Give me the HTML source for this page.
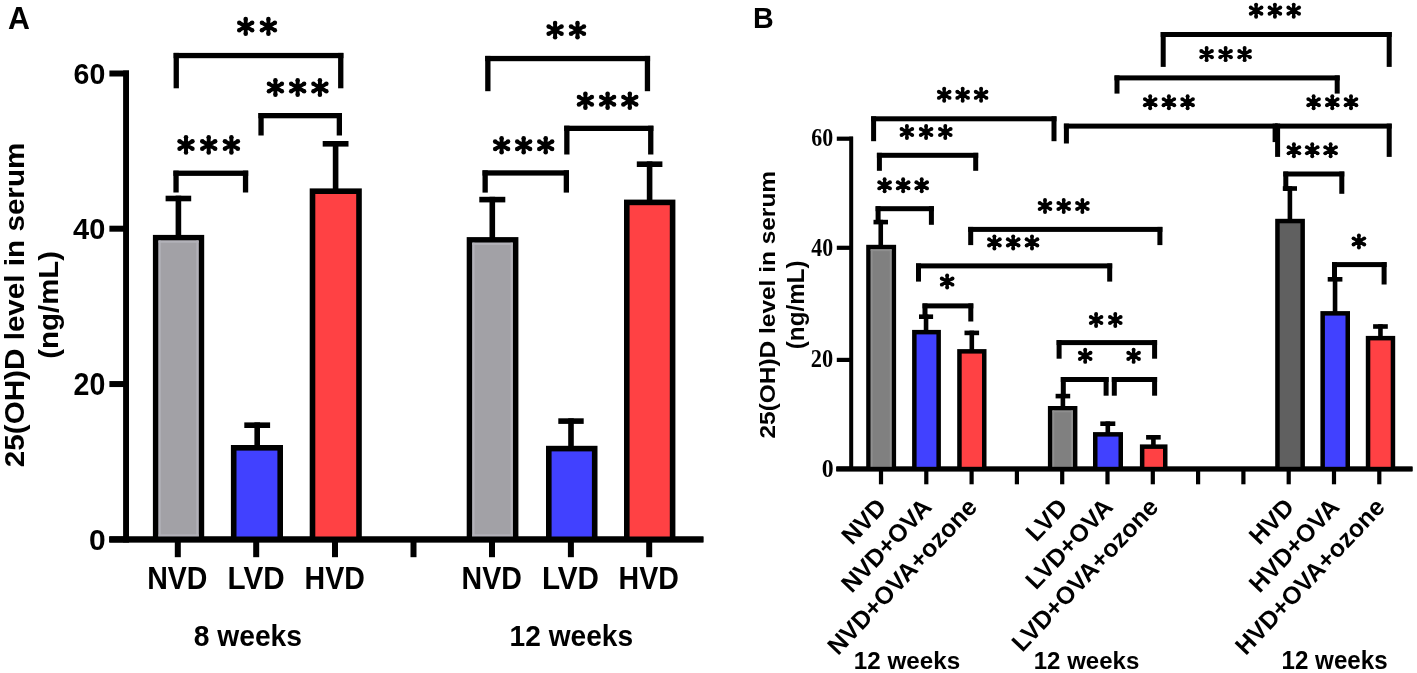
<!DOCTYPE html>
<html><head><meta charset="utf-8"><title>25(OH)D serum levels</title>
<style>html,body{margin:0;padding:0;background:#fff;overflow:hidden}svg{display:block;will-change:transform}</style></head>
<body><svg width="1417" height="673" viewBox="0 0 1417 673">
<rect width="1417" height="673" fill="#fff"/>
<text x="0" y="0" font-family="Liberation Sans, sans-serif" font-size="30.44" font-weight="bold" transform="translate(7.89,28.70) scale(0.9955,1)">A</text>
<rect x="123.10" y="70.50" width="5.90" height="471.90" fill="#000"/>
<rect x="109.40" y="70.50" width="19.60" height="6.00" fill="#000"/>
<rect x="109.40" y="225.70" width="19.60" height="6.00" fill="#000"/>
<rect x="109.40" y="381.05" width="19.60" height="6.00" fill="#000"/>
<rect x="109.40" y="536.40" width="19.60" height="6.00" fill="#000"/>
<rect x="109.40" y="536.50" width="594.00" height="5.90" fill="#000"/>
<rect x="174.80" y="540.00" width="6.00" height="17.20" fill="#000"/>
<rect x="253.20" y="540.00" width="6.00" height="17.20" fill="#000"/>
<rect x="332.00" y="540.00" width="6.00" height="17.20" fill="#000"/>
<rect x="410.50" y="540.00" width="6.00" height="17.20" fill="#000"/>
<rect x="489.00" y="540.00" width="6.00" height="17.20" fill="#000"/>
<rect x="567.90" y="540.00" width="6.00" height="17.20" fill="#000"/>
<rect x="646.20" y="540.00" width="6.00" height="17.20" fill="#000"/>
<rect x="152.90" y="234.90" width="51.30" height="307.10" fill="#000"/>
<rect x="158.50" y="240.50" width="40.10" height="301.50" fill="#a2a1a6"/>
<rect x="158.50" y="240.50" width="40.10" height="2.20" fill="#b3b2b9"/>
<rect x="158.50" y="240.50" width="2.20" height="301.50" fill="#b3b2b9"/>
<rect x="196.40" y="240.50" width="2.20" height="301.50" fill="#b3b2b9"/>
<rect x="158.50" y="534.40" width="40.10" height="2.20" fill="#b3b2b9"/>
<rect x="230.90" y="445.00" width="52.10" height="97.00" fill="#000"/>
<rect x="236.50" y="450.60" width="40.90" height="91.40" fill="#4141ff"/>
<rect x="309.70" y="188.40" width="52.10" height="353.60" fill="#000"/>
<rect x="315.30" y="194.00" width="40.90" height="348.00" fill="#ff4144"/>
<rect x="466.70" y="237.10" width="51.70" height="304.90" fill="#000"/>
<rect x="472.30" y="242.70" width="40.50" height="299.30" fill="#a2a1a6"/>
<rect x="472.30" y="242.70" width="40.50" height="2.20" fill="#b3b2b9"/>
<rect x="472.30" y="242.70" width="2.20" height="299.30" fill="#b3b2b9"/>
<rect x="510.60" y="242.70" width="2.20" height="299.30" fill="#b3b2b9"/>
<rect x="472.30" y="534.40" width="40.50" height="2.20" fill="#b3b2b9"/>
<rect x="546.00" y="445.80" width="51.50" height="96.20" fill="#000"/>
<rect x="551.60" y="451.40" width="40.30" height="90.60" fill="#4141ff"/>
<rect x="624.00" y="199.60" width="51.40" height="342.40" fill="#000"/>
<rect x="629.60" y="205.20" width="40.20" height="336.80" fill="#ff4144"/>
<rect x="109.40" y="536.50" width="594.00" height="5.90" fill="#000"/>
<rect x="175.60" y="195.70" width="5.60" height="40.20" fill="#000"/>
<rect x="165.60" y="195.70" width="25.60" height="5.60" fill="#000"/>
<rect x="254.40" y="422.40" width="5.60" height="23.60" fill="#000"/>
<rect x="244.30" y="422.40" width="25.80" height="5.60" fill="#000"/>
<rect x="332.80" y="141.00" width="5.60" height="48.40" fill="#000"/>
<rect x="322.70" y="141.00" width="25.80" height="5.60" fill="#000"/>
<rect x="489.50" y="196.80" width="5.60" height="41.30" fill="#000"/>
<rect x="479.30" y="196.80" width="26.00" height="5.60" fill="#000"/>
<rect x="568.20" y="418.30" width="5.60" height="28.50" fill="#000"/>
<rect x="558.30" y="418.30" width="25.40" height="5.60" fill="#000"/>
<rect x="646.80" y="161.40" width="5.60" height="39.20" fill="#000"/>
<rect x="636.80" y="161.40" width="25.60" height="5.60" fill="#000"/>
<rect x="173.60" y="52.90" width="169.80" height="5.30" fill="#000"/>
<rect x="173.60" y="52.90" width="5.30" height="35.40" fill="#000"/>
<rect x="338.10" y="52.90" width="5.30" height="35.40" fill="#000"/>
<rect x="258.40" y="113.00" width="83.60" height="5.30" fill="#000"/>
<rect x="258.40" y="113.00" width="5.30" height="22.50" fill="#000"/>
<rect x="336.70" y="113.00" width="5.30" height="22.50" fill="#000"/>
<rect x="173.40" y="170.60" width="74.80" height="5.30" fill="#000"/>
<rect x="173.40" y="170.60" width="5.30" height="21.90" fill="#000"/>
<rect x="242.90" y="170.60" width="5.30" height="21.90" fill="#000"/>
<rect x="485.20" y="55.90" width="164.90" height="5.30" fill="#000"/>
<rect x="485.20" y="55.90" width="5.30" height="35.30" fill="#000"/>
<rect x="644.80" y="55.90" width="5.30" height="35.30" fill="#000"/>
<rect x="564.20" y="125.70" width="89.20" height="5.30" fill="#000"/>
<rect x="564.20" y="125.70" width="5.30" height="28.80" fill="#000"/>
<rect x="648.10" y="125.70" width="5.30" height="28.80" fill="#000"/>
<rect x="482.50" y="170.30" width="86.50" height="5.30" fill="#000"/>
<rect x="482.50" y="170.30" width="5.30" height="22.30" fill="#000"/>
<rect x="563.70" y="170.30" width="5.30" height="22.30" fill="#000"/>
<path d="M245.70 26.45L245.70 19.05M245.70 26.45L252.15 22.73M245.70 26.45L252.15 30.17M245.70 26.45L245.70 33.85M245.70 26.45L239.25 30.17M245.70 26.45L239.25 22.73" stroke="#000" stroke-width="3.9" fill="none"/><g fill="#000"><circle cx="245.70" cy="19.05" r="2.25"/><circle cx="252.15" cy="22.73" r="2.25"/><circle cx="252.15" cy="30.17" r="2.25"/><circle cx="245.70" cy="33.85" r="2.25"/><circle cx="239.25" cy="30.17" r="2.25"/><circle cx="239.25" cy="22.73" r="2.25"/></g>
<path d="M268.40 26.45L268.40 19.05M268.40 26.45L274.85 22.73M268.40 26.45L274.85 30.17M268.40 26.45L268.40 33.85M268.40 26.45L261.95 30.17M268.40 26.45L261.95 22.73" stroke="#000" stroke-width="3.9" fill="none"/><g fill="#000"><circle cx="268.40" cy="19.05" r="2.25"/><circle cx="274.85" cy="22.73" r="2.25"/><circle cx="274.85" cy="30.17" r="2.25"/><circle cx="268.40" cy="33.85" r="2.25"/><circle cx="261.95" cy="30.17" r="2.25"/><circle cx="261.95" cy="22.73" r="2.25"/></g>
<path d="M275.40 87.55L275.40 80.35M275.40 87.55L281.85 83.83M275.40 87.55L281.85 91.27M275.40 87.55L275.40 94.75M275.40 87.55L268.95 91.27M275.40 87.55L268.95 83.83" stroke="#000" stroke-width="3.9" fill="none"/><g fill="#000"><circle cx="275.40" cy="80.35" r="2.25"/><circle cx="281.85" cy="83.83" r="2.25"/><circle cx="281.85" cy="91.27" r="2.25"/><circle cx="275.40" cy="94.75" r="2.25"/><circle cx="268.95" cy="91.27" r="2.25"/><circle cx="268.95" cy="83.83" r="2.25"/></g>
<path d="M297.65 87.55L297.65 80.35M297.65 87.55L304.10 83.83M297.65 87.55L304.10 91.27M297.65 87.55L297.65 94.75M297.65 87.55L291.20 91.27M297.65 87.55L291.20 83.83" stroke="#000" stroke-width="3.9" fill="none"/><g fill="#000"><circle cx="297.65" cy="80.35" r="2.25"/><circle cx="304.10" cy="83.83" r="2.25"/><circle cx="304.10" cy="91.27" r="2.25"/><circle cx="297.65" cy="94.75" r="2.25"/><circle cx="291.20" cy="91.27" r="2.25"/><circle cx="291.20" cy="83.83" r="2.25"/></g>
<path d="M319.90 87.55L319.90 80.35M319.90 87.55L326.35 83.83M319.90 87.55L326.35 91.27M319.90 87.55L319.90 94.75M319.90 87.55L313.45 91.27M319.90 87.55L313.45 83.83" stroke="#000" stroke-width="3.9" fill="none"/><g fill="#000"><circle cx="319.90" cy="80.35" r="2.25"/><circle cx="326.35" cy="83.83" r="2.25"/><circle cx="326.35" cy="91.27" r="2.25"/><circle cx="319.90" cy="94.75" r="2.25"/><circle cx="313.45" cy="91.27" r="2.25"/><circle cx="313.45" cy="83.83" r="2.25"/></g>
<path d="M186.00 144.95L186.00 137.35M186.00 144.95L192.45 141.23M186.00 144.95L192.45 148.67M186.00 144.95L186.00 152.55M186.00 144.95L179.55 148.67M186.00 144.95L179.55 141.23" stroke="#000" stroke-width="3.9" fill="none"/><g fill="#000"><circle cx="186.00" cy="137.35" r="2.25"/><circle cx="192.45" cy="141.23" r="2.25"/><circle cx="192.45" cy="148.67" r="2.25"/><circle cx="186.00" cy="152.55" r="2.25"/><circle cx="179.55" cy="148.67" r="2.25"/><circle cx="179.55" cy="141.23" r="2.25"/></g>
<path d="M208.70 144.95L208.70 137.35M208.70 144.95L215.15 141.23M208.70 144.95L215.15 148.67M208.70 144.95L208.70 152.55M208.70 144.95L202.25 148.67M208.70 144.95L202.25 141.23" stroke="#000" stroke-width="3.9" fill="none"/><g fill="#000"><circle cx="208.70" cy="137.35" r="2.25"/><circle cx="215.15" cy="141.23" r="2.25"/><circle cx="215.15" cy="148.67" r="2.25"/><circle cx="208.70" cy="152.55" r="2.25"/><circle cx="202.25" cy="148.67" r="2.25"/><circle cx="202.25" cy="141.23" r="2.25"/></g>
<path d="M231.40 144.95L231.40 137.35M231.40 144.95L237.85 141.23M231.40 144.95L237.85 148.67M231.40 144.95L231.40 152.55M231.40 144.95L224.95 148.67M231.40 144.95L224.95 141.23" stroke="#000" stroke-width="3.9" fill="none"/><g fill="#000"><circle cx="231.40" cy="137.35" r="2.25"/><circle cx="237.85" cy="141.23" r="2.25"/><circle cx="237.85" cy="148.67" r="2.25"/><circle cx="231.40" cy="152.55" r="2.25"/><circle cx="224.95" cy="148.67" r="2.25"/><circle cx="224.95" cy="141.23" r="2.25"/></g>
<path d="M555.10 30.15L555.10 22.95M555.10 30.15L561.55 26.43M555.10 30.15L561.55 33.87M555.10 30.15L555.10 37.35M555.10 30.15L548.65 33.87M555.10 30.15L548.65 26.43" stroke="#000" stroke-width="3.9" fill="none"/><g fill="#000"><circle cx="555.10" cy="22.95" r="2.25"/><circle cx="561.55" cy="26.43" r="2.25"/><circle cx="561.55" cy="33.87" r="2.25"/><circle cx="555.10" cy="37.35" r="2.25"/><circle cx="548.65" cy="33.87" r="2.25"/><circle cx="548.65" cy="26.43" r="2.25"/></g>
<path d="M577.50 30.15L577.50 22.95M577.50 30.15L583.95 26.43M577.50 30.15L583.95 33.87M577.50 30.15L577.50 37.35M577.50 30.15L571.05 33.87M577.50 30.15L571.05 26.43" stroke="#000" stroke-width="3.9" fill="none"/><g fill="#000"><circle cx="577.50" cy="22.95" r="2.25"/><circle cx="583.95" cy="26.43" r="2.25"/><circle cx="583.95" cy="33.87" r="2.25"/><circle cx="577.50" cy="37.35" r="2.25"/><circle cx="571.05" cy="33.87" r="2.25"/><circle cx="571.05" cy="26.43" r="2.25"/></g>
<path d="M585.40 100.75L585.40 93.65M585.40 100.75L591.85 97.03M585.40 100.75L591.85 104.47M585.40 100.75L585.40 107.85M585.40 100.75L578.95 104.47M585.40 100.75L578.95 97.03" stroke="#000" stroke-width="3.9" fill="none"/><g fill="#000"><circle cx="585.40" cy="93.65" r="2.25"/><circle cx="591.85" cy="97.03" r="2.25"/><circle cx="591.85" cy="104.47" r="2.25"/><circle cx="585.40" cy="107.85" r="2.25"/><circle cx="578.95" cy="104.47" r="2.25"/><circle cx="578.95" cy="97.03" r="2.25"/></g>
<path d="M607.60 100.75L607.60 93.65M607.60 100.75L614.05 97.03M607.60 100.75L614.05 104.47M607.60 100.75L607.60 107.85M607.60 100.75L601.15 104.47M607.60 100.75L601.15 97.03" stroke="#000" stroke-width="3.9" fill="none"/><g fill="#000"><circle cx="607.60" cy="93.65" r="2.25"/><circle cx="614.05" cy="97.03" r="2.25"/><circle cx="614.05" cy="104.47" r="2.25"/><circle cx="607.60" cy="107.85" r="2.25"/><circle cx="601.15" cy="104.47" r="2.25"/><circle cx="601.15" cy="97.03" r="2.25"/></g>
<path d="M629.80 100.75L629.80 93.65M629.80 100.75L636.25 97.03M629.80 100.75L636.25 104.47M629.80 100.75L629.80 107.85M629.80 100.75L623.35 104.47M629.80 100.75L623.35 97.03" stroke="#000" stroke-width="3.9" fill="none"/><g fill="#000"><circle cx="629.80" cy="93.65" r="2.25"/><circle cx="636.25" cy="97.03" r="2.25"/><circle cx="636.25" cy="104.47" r="2.25"/><circle cx="629.80" cy="107.85" r="2.25"/><circle cx="623.35" cy="104.47" r="2.25"/><circle cx="623.35" cy="97.03" r="2.25"/></g>
<path d="M501.60 145.30L501.60 138.25M501.60 145.30L508.05 141.58M501.60 145.30L508.05 149.02M501.60 145.30L501.60 152.35M501.60 145.30L495.15 149.02M501.60 145.30L495.15 141.58" stroke="#000" stroke-width="3.9" fill="none"/><g fill="#000"><circle cx="501.60" cy="138.25" r="2.25"/><circle cx="508.05" cy="141.58" r="2.25"/><circle cx="508.05" cy="149.02" r="2.25"/><circle cx="501.60" cy="152.35" r="2.25"/><circle cx="495.15" cy="149.02" r="2.25"/><circle cx="495.15" cy="141.58" r="2.25"/></g>
<path d="M523.65 145.30L523.65 138.25M523.65 145.30L530.10 141.58M523.65 145.30L530.10 149.02M523.65 145.30L523.65 152.35M523.65 145.30L517.20 149.02M523.65 145.30L517.20 141.58" stroke="#000" stroke-width="3.9" fill="none"/><g fill="#000"><circle cx="523.65" cy="138.25" r="2.25"/><circle cx="530.10" cy="141.58" r="2.25"/><circle cx="530.10" cy="149.02" r="2.25"/><circle cx="523.65" cy="152.35" r="2.25"/><circle cx="517.20" cy="149.02" r="2.25"/><circle cx="517.20" cy="141.58" r="2.25"/></g>
<path d="M545.70 145.30L545.70 138.25M545.70 145.30L552.15 141.58M545.70 145.30L552.15 149.02M545.70 145.30L545.70 152.35M545.70 145.30L539.25 149.02M545.70 145.30L539.25 141.58" stroke="#000" stroke-width="3.9" fill="none"/><g fill="#000"><circle cx="545.70" cy="138.25" r="2.25"/><circle cx="552.15" cy="141.58" r="2.25"/><circle cx="552.15" cy="149.02" r="2.25"/><circle cx="545.70" cy="152.35" r="2.25"/><circle cx="539.25" cy="149.02" r="2.25"/><circle cx="539.25" cy="141.58" r="2.25"/></g>
<text x="0" y="0" font-family="Liberation Sans, sans-serif" font-size="30.00" font-weight="bold" transform="translate(73.56,83.70) scale(0.9515,1)">60</text>
<text x="0" y="0" font-family="Liberation Sans, sans-serif" font-size="30.14" font-weight="bold" transform="translate(73.12,239.10) scale(0.9606,1)">40</text>
<text x="0" y="0" font-family="Liberation Sans, sans-serif" font-size="30.42" font-weight="bold" transform="translate(73.54,394.50) scale(0.9387,1)">20</text>
<text x="0" y="0" font-family="Liberation Sans, sans-serif" font-size="30.42" font-weight="bold" transform="translate(88.90,550.00) scale(0.9861,1)">0</text>
<text x="0" y="0" font-family="Liberation Sans, sans-serif" font-size="30.87" font-weight="bold" transform="translate(147.20,589.30) scale(0.9249,1)">NVD</text>
<text x="0" y="0" font-family="Liberation Sans, sans-serif" font-size="30.87" font-weight="bold" transform="translate(227.52,589.30) scale(0.9611,1)">LVD</text>
<text x="0" y="0" font-family="Liberation Sans, sans-serif" font-size="30.87" font-weight="bold" transform="translate(304.60,589.30) scale(0.9249,1)">HVD</text>
<text x="0" y="0" font-family="Liberation Sans, sans-serif" font-size="30.87" font-weight="bold" transform="translate(461.60,589.30) scale(0.9249,1)">NVD</text>
<text x="0" y="0" font-family="Liberation Sans, sans-serif" font-size="30.87" font-weight="bold" transform="translate(541.92,589.30) scale(0.9611,1)">LVD</text>
<text x="0" y="0" font-family="Liberation Sans, sans-serif" font-size="30.87" font-weight="bold" transform="translate(618.60,589.30) scale(0.9249,1)">HVD</text>
<text x="0" y="0" font-family="Liberation Sans, sans-serif" font-size="29.19" font-weight="bold" transform="translate(193.65,646.11) scale(0.9676,1)">8 weeks</text>
<text x="0" y="0" font-family="Liberation Sans, sans-serif" font-size="29.46" font-weight="bold" transform="translate(509.61,646.21) scale(0.9550,1)">12 weeks</text>
<text x="0" y="0" font-family="Liberation Sans, sans-serif" font-size="27.87" font-weight="bold" transform="translate(23.65,467.19) rotate(-90) scale(1.0641,1)">25(OH)D level in serum</text>
<text x="0" y="0" font-family="Liberation Sans, sans-serif" font-size="27.55" font-weight="bold" transform="translate(57.51,358.67) rotate(-90) scale(1.0675,1)">(ng/mL)</text>
<text x="0" y="0" font-family="Liberation Sans, sans-serif" font-size="29.71" font-weight="bold" transform="translate(753.09,28.20) scale(0.9656,1)">B</text>
<rect x="849.20" y="136.60" width="4.00" height="334.40" fill="#000"/>
<rect x="836.80" y="136.60" width="16.20" height="4.20" fill="#000"/>
<rect x="836.80" y="245.70" width="16.20" height="4.20" fill="#000"/>
<rect x="836.80" y="357.80" width="16.20" height="4.20" fill="#000"/>
<rect x="836.80" y="466.60" width="16.20" height="4.20" fill="#000"/>
<rect x="836.30" y="466.40" width="576.20" height="4.60" fill="#000"/>
<rect x="878.90" y="469.00" width="4.20" height="15.30" fill="#000"/>
<rect x="924.20" y="469.00" width="4.20" height="15.30" fill="#000"/>
<rect x="969.50" y="469.00" width="4.20" height="15.30" fill="#000"/>
<rect x="1014.80" y="469.00" width="4.20" height="15.30" fill="#000"/>
<rect x="1060.10" y="469.00" width="4.20" height="15.30" fill="#000"/>
<rect x="1105.40" y="469.00" width="4.20" height="15.30" fill="#000"/>
<rect x="1150.70" y="469.00" width="4.20" height="15.30" fill="#000"/>
<rect x="1196.00" y="469.00" width="4.20" height="15.30" fill="#000"/>
<rect x="1241.30" y="469.00" width="4.20" height="15.30" fill="#000"/>
<rect x="1286.60" y="469.00" width="4.20" height="15.30" fill="#000"/>
<rect x="1331.90" y="469.00" width="4.20" height="15.30" fill="#000"/>
<rect x="1377.20" y="469.00" width="4.20" height="15.30" fill="#000"/>
<rect x="866.20" y="244.80" width="29.90" height="225.20" fill="#000"/>
<rect x="870.70" y="249.30" width="20.90" height="220.70" fill="#808080"/>
<rect x="870.70" y="249.30" width="20.90" height="1.80" fill="#8f8f8f"/>
<rect x="870.70" y="249.30" width="1.80" height="220.70" fill="#8f8f8f"/>
<rect x="889.80" y="249.30" width="1.80" height="220.70" fill="#8f8f8f"/>
<rect x="912.10" y="329.90" width="28.80" height="140.10" fill="#000"/>
<rect x="916.60" y="334.40" width="19.80" height="135.60" fill="#4141ff"/>
<rect x="957.20" y="349.10" width="29.30" height="120.90" fill="#000"/>
<rect x="961.70" y="353.60" width="20.30" height="116.40" fill="#ff4144"/>
<rect x="1047.90" y="406.00" width="29.50" height="64.00" fill="#000"/>
<rect x="1052.40" y="410.50" width="20.50" height="59.50" fill="#808080"/>
<rect x="1052.40" y="410.50" width="20.50" height="1.80" fill="#8f8f8f"/>
<rect x="1052.40" y="410.50" width="1.80" height="59.50" fill="#8f8f8f"/>
<rect x="1071.10" y="410.50" width="1.80" height="59.50" fill="#8f8f8f"/>
<rect x="1093.00" y="432.10" width="30.00" height="37.90" fill="#000"/>
<rect x="1097.50" y="436.60" width="21.00" height="33.40" fill="#4141ff"/>
<rect x="1139.90" y="444.40" width="27.60" height="25.60" fill="#000"/>
<rect x="1144.40" y="448.90" width="18.60" height="21.10" fill="#ff4144"/>
<rect x="1275.20" y="218.80" width="29.70" height="251.20" fill="#000"/>
<rect x="1279.70" y="223.30" width="20.70" height="246.70" fill="#606060"/>
<rect x="1320.40" y="311.10" width="29.60" height="158.90" fill="#000"/>
<rect x="1324.90" y="315.60" width="20.60" height="154.40" fill="#4141ff"/>
<rect x="1365.80" y="335.90" width="29.40" height="134.10" fill="#000"/>
<rect x="1370.30" y="340.40" width="20.40" height="129.60" fill="#ff4144"/>
<rect x="836.30" y="466.80" width="576.20" height="4.80" fill="#000"/>
<rect x="878.45" y="219.80" width="4.60" height="26.00" fill="#000"/>
<rect x="873.50" y="219.80" width="14.50" height="4.60" fill="#000"/>
<rect x="923.75" y="314.40" width="4.60" height="16.50" fill="#000"/>
<rect x="919.00" y="314.40" width="14.10" height="4.60" fill="#000"/>
<rect x="969.50" y="330.60" width="4.60" height="19.50" fill="#000"/>
<rect x="964.50" y="330.60" width="14.60" height="4.60" fill="#000"/>
<rect x="1060.60" y="393.80" width="4.60" height="13.20" fill="#000"/>
<rect x="1055.60" y="393.80" width="14.60" height="4.60" fill="#000"/>
<rect x="1105.50" y="421.40" width="4.60" height="11.70" fill="#000"/>
<rect x="1100.30" y="421.40" width="15.00" height="4.60" fill="#000"/>
<rect x="1151.10" y="435.00" width="4.60" height="10.40" fill="#000"/>
<rect x="1146.10" y="435.00" width="14.60" height="4.60" fill="#000"/>
<rect x="1287.60" y="186.20" width="4.60" height="33.60" fill="#000"/>
<rect x="1282.80" y="186.20" width="14.20" height="4.60" fill="#000"/>
<rect x="1332.75" y="277.00" width="4.60" height="35.10" fill="#000"/>
<rect x="1327.70" y="277.00" width="14.70" height="4.60" fill="#000"/>
<rect x="1378.15" y="324.20" width="4.60" height="12.70" fill="#000"/>
<rect x="1373.10" y="324.20" width="14.70" height="4.60" fill="#000"/>
<rect x="871.10" y="116.30" width="185.40" height="5.00" fill="#000"/>
<rect x="871.10" y="116.30" width="5.00" height="24.90" fill="#000"/>
<rect x="1051.50" y="116.30" width="5.00" height="24.90" fill="#000"/>
<rect x="876.90" y="152.80" width="101.30" height="5.00" fill="#000"/>
<rect x="876.90" y="152.80" width="5.00" height="18.00" fill="#000"/>
<rect x="973.20" y="152.80" width="5.00" height="18.00" fill="#000"/>
<rect x="875.60" y="206.20" width="58.30" height="5.00" fill="#000"/>
<rect x="875.60" y="206.20" width="5.00" height="15.80" fill="#000"/>
<rect x="928.90" y="206.20" width="5.00" height="18.60" fill="#000"/>
<rect x="1063.90" y="123.60" width="213.70" height="5.00" fill="#000"/>
<rect x="1063.90" y="123.60" width="5.00" height="19.90" fill="#000"/>
<rect x="1272.60" y="123.60" width="5.00" height="18.50" fill="#000"/>
<rect x="1275.10" y="123.60" width="116.60" height="5.00" fill="#000"/>
<rect x="1275.10" y="123.60" width="5.00" height="33.30" fill="#000"/>
<rect x="1386.70" y="123.60" width="5.00" height="33.30" fill="#000"/>
<rect x="1160.70" y="32.00" width="231.00" height="5.00" fill="#000"/>
<rect x="1160.70" y="32.00" width="5.00" height="34.90" fill="#000"/>
<rect x="1386.70" y="32.00" width="5.00" height="34.90" fill="#000"/>
<rect x="1114.50" y="75.40" width="225.20" height="5.00" fill="#000"/>
<rect x="1114.50" y="75.40" width="5.00" height="18.20" fill="#000"/>
<rect x="1334.70" y="75.40" width="5.00" height="18.20" fill="#000"/>
<rect x="1283.30" y="171.50" width="61.00" height="5.00" fill="#000"/>
<rect x="1283.30" y="171.50" width="5.00" height="19.50" fill="#000"/>
<rect x="1339.30" y="171.50" width="5.00" height="22.30" fill="#000"/>
<rect x="1332.00" y="262.10" width="54.60" height="5.00" fill="#000"/>
<rect x="1332.00" y="262.10" width="5.00" height="15.90" fill="#000"/>
<rect x="1381.60" y="262.10" width="5.00" height="22.40" fill="#000"/>
<rect x="968.20" y="226.90" width="194.20" height="5.00" fill="#000"/>
<rect x="968.20" y="226.90" width="5.00" height="18.20" fill="#000"/>
<rect x="1157.40" y="226.90" width="5.00" height="18.20" fill="#000"/>
<rect x="916.00" y="263.40" width="196.20" height="5.00" fill="#000"/>
<rect x="916.00" y="263.40" width="5.00" height="18.20" fill="#000"/>
<rect x="1107.20" y="263.40" width="5.00" height="18.20" fill="#000"/>
<rect x="922.50" y="303.40" width="50.80" height="5.00" fill="#000"/>
<rect x="922.50" y="303.40" width="5.00" height="12.60" fill="#000"/>
<rect x="968.30" y="303.40" width="5.00" height="18.10" fill="#000"/>
<rect x="1056.60" y="340.10" width="100.50" height="5.00" fill="#000"/>
<rect x="1056.60" y="340.10" width="5.00" height="18.60" fill="#000"/>
<rect x="1152.10" y="340.10" width="5.00" height="18.60" fill="#000"/>
<rect x="1060.80" y="377.00" width="47.80" height="5.00" fill="#000"/>
<rect x="1060.80" y="377.00" width="5.00" height="18.00" fill="#000"/>
<rect x="1103.60" y="377.00" width="5.00" height="18.70" fill="#000"/>
<rect x="1111.80" y="377.00" width="45.30" height="5.00" fill="#000"/>
<rect x="1111.80" y="377.00" width="5.00" height="18.70" fill="#000"/>
<rect x="1152.10" y="377.00" width="5.00" height="18.70" fill="#000"/>
<path d="M944.20 94.80L944.20 88.75M944.20 94.80L949.55 91.71M944.20 94.80L949.55 97.89M944.20 94.80L944.20 100.85M944.20 94.80L938.85 97.89M944.20 94.80L938.85 91.71" stroke="#000" stroke-width="3.3" fill="none"/><g fill="#000"><circle cx="944.20" cy="88.75" r="1.95"/><circle cx="949.55" cy="91.71" r="1.95"/><circle cx="949.55" cy="97.89" r="1.95"/><circle cx="944.20" cy="100.85" r="1.95"/><circle cx="938.85" cy="97.89" r="1.95"/><circle cx="938.85" cy="91.71" r="1.95"/></g>
<path d="M962.65 94.80L962.65 88.75M962.65 94.80L968.00 91.71M962.65 94.80L968.00 97.89M962.65 94.80L962.65 100.85M962.65 94.80L957.30 97.89M962.65 94.80L957.30 91.71" stroke="#000" stroke-width="3.3" fill="none"/><g fill="#000"><circle cx="962.65" cy="88.75" r="1.95"/><circle cx="968.00" cy="91.71" r="1.95"/><circle cx="968.00" cy="97.89" r="1.95"/><circle cx="962.65" cy="100.85" r="1.95"/><circle cx="957.30" cy="97.89" r="1.95"/><circle cx="957.30" cy="91.71" r="1.95"/></g>
<path d="M981.10 94.80L981.10 88.75M981.10 94.80L986.45 91.71M981.10 94.80L986.45 97.89M981.10 94.80L981.10 100.85M981.10 94.80L975.75 97.89M981.10 94.80L975.75 91.71" stroke="#000" stroke-width="3.3" fill="none"/><g fill="#000"><circle cx="981.10" cy="88.75" r="1.95"/><circle cx="986.45" cy="91.71" r="1.95"/><circle cx="986.45" cy="97.89" r="1.95"/><circle cx="981.10" cy="100.85" r="1.95"/><circle cx="975.75" cy="97.89" r="1.95"/><circle cx="975.75" cy="91.71" r="1.95"/></g>
<path d="M906.90 132.00L906.90 125.95M906.90 132.00L912.25 128.91M906.90 132.00L912.25 135.09M906.90 132.00L906.90 138.05M906.90 132.00L901.55 135.09M906.90 132.00L901.55 128.91" stroke="#000" stroke-width="3.3" fill="none"/><g fill="#000"><circle cx="906.90" cy="125.95" r="1.95"/><circle cx="912.25" cy="128.91" r="1.95"/><circle cx="912.25" cy="135.09" r="1.95"/><circle cx="906.90" cy="138.05" r="1.95"/><circle cx="901.55" cy="135.09" r="1.95"/><circle cx="901.55" cy="128.91" r="1.95"/></g>
<path d="M926.10 132.00L926.10 125.95M926.10 132.00L931.45 128.91M926.10 132.00L931.45 135.09M926.10 132.00L926.10 138.05M926.10 132.00L920.75 135.09M926.10 132.00L920.75 128.91" stroke="#000" stroke-width="3.3" fill="none"/><g fill="#000"><circle cx="926.10" cy="125.95" r="1.95"/><circle cx="931.45" cy="128.91" r="1.95"/><circle cx="931.45" cy="135.09" r="1.95"/><circle cx="926.10" cy="138.05" r="1.95"/><circle cx="920.75" cy="135.09" r="1.95"/><circle cx="920.75" cy="128.91" r="1.95"/></g>
<path d="M945.30 132.00L945.30 125.95M945.30 132.00L950.65 128.91M945.30 132.00L950.65 135.09M945.30 132.00L945.30 138.05M945.30 132.00L939.95 135.09M945.30 132.00L939.95 128.91" stroke="#000" stroke-width="3.3" fill="none"/><g fill="#000"><circle cx="945.30" cy="125.95" r="1.95"/><circle cx="950.65" cy="128.91" r="1.95"/><circle cx="950.65" cy="135.09" r="1.95"/><circle cx="945.30" cy="138.05" r="1.95"/><circle cx="939.95" cy="135.09" r="1.95"/><circle cx="939.95" cy="128.91" r="1.95"/></g>
<path d="M884.60 185.30L884.60 179.25M884.60 185.30L889.95 182.21M884.60 185.30L889.95 188.39M884.60 185.30L884.60 191.35M884.60 185.30L879.25 188.39M884.60 185.30L879.25 182.21" stroke="#000" stroke-width="3.3" fill="none"/><g fill="#000"><circle cx="884.60" cy="179.25" r="1.95"/><circle cx="889.95" cy="182.21" r="1.95"/><circle cx="889.95" cy="188.39" r="1.95"/><circle cx="884.60" cy="191.35" r="1.95"/><circle cx="879.25" cy="188.39" r="1.95"/><circle cx="879.25" cy="182.21" r="1.95"/></g>
<path d="M903.15 185.30L903.15 179.25M903.15 185.30L908.50 182.21M903.15 185.30L908.50 188.39M903.15 185.30L903.15 191.35M903.15 185.30L897.80 188.39M903.15 185.30L897.80 182.21" stroke="#000" stroke-width="3.3" fill="none"/><g fill="#000"><circle cx="903.15" cy="179.25" r="1.95"/><circle cx="908.50" cy="182.21" r="1.95"/><circle cx="908.50" cy="188.39" r="1.95"/><circle cx="903.15" cy="191.35" r="1.95"/><circle cx="897.80" cy="188.39" r="1.95"/><circle cx="897.80" cy="182.21" r="1.95"/></g>
<path d="M921.70 185.30L921.70 179.25M921.70 185.30L927.05 182.21M921.70 185.30L927.05 188.39M921.70 185.30L921.70 191.35M921.70 185.30L916.35 188.39M921.70 185.30L916.35 182.21" stroke="#000" stroke-width="3.3" fill="none"/><g fill="#000"><circle cx="921.70" cy="179.25" r="1.95"/><circle cx="927.05" cy="182.21" r="1.95"/><circle cx="927.05" cy="188.39" r="1.95"/><circle cx="921.70" cy="191.35" r="1.95"/><circle cx="916.35" cy="188.39" r="1.95"/><circle cx="916.35" cy="182.21" r="1.95"/></g>
<path d="M1256.10 10.65L1256.10 4.60M1256.10 10.65L1261.45 7.56M1256.10 10.65L1261.45 13.74M1256.10 10.65L1256.10 16.70M1256.10 10.65L1250.75 13.74M1256.10 10.65L1250.75 7.56" stroke="#000" stroke-width="3.3" fill="none"/><g fill="#000"><circle cx="1256.10" cy="4.60" r="1.95"/><circle cx="1261.45" cy="7.56" r="1.95"/><circle cx="1261.45" cy="13.74" r="1.95"/><circle cx="1256.10" cy="16.70" r="1.95"/><circle cx="1250.75" cy="13.74" r="1.95"/><circle cx="1250.75" cy="7.56" r="1.95"/></g>
<path d="M1274.90 10.65L1274.90 4.60M1274.90 10.65L1280.25 7.56M1274.90 10.65L1280.25 13.74M1274.90 10.65L1274.90 16.70M1274.90 10.65L1269.55 13.74M1274.90 10.65L1269.55 7.56" stroke="#000" stroke-width="3.3" fill="none"/><g fill="#000"><circle cx="1274.90" cy="4.60" r="1.95"/><circle cx="1280.25" cy="7.56" r="1.95"/><circle cx="1280.25" cy="13.74" r="1.95"/><circle cx="1274.90" cy="16.70" r="1.95"/><circle cx="1269.55" cy="13.74" r="1.95"/><circle cx="1269.55" cy="7.56" r="1.95"/></g>
<path d="M1293.70 10.65L1293.70 4.60M1293.70 10.65L1299.05 7.56M1293.70 10.65L1299.05 13.74M1293.70 10.65L1293.70 16.70M1293.70 10.65L1288.35 13.74M1293.70 10.65L1288.35 7.56" stroke="#000" stroke-width="3.3" fill="none"/><g fill="#000"><circle cx="1293.70" cy="4.60" r="1.95"/><circle cx="1299.05" cy="7.56" r="1.95"/><circle cx="1299.05" cy="13.74" r="1.95"/><circle cx="1293.70" cy="16.70" r="1.95"/><circle cx="1288.35" cy="13.74" r="1.95"/><circle cx="1288.35" cy="7.56" r="1.95"/></g>
<path d="M1206.60 54.10L1206.60 48.05M1206.60 54.10L1211.95 51.01M1206.60 54.10L1211.95 57.19M1206.60 54.10L1206.60 60.15M1206.60 54.10L1201.25 57.19M1206.60 54.10L1201.25 51.01" stroke="#000" stroke-width="3.3" fill="none"/><g fill="#000"><circle cx="1206.60" cy="48.05" r="1.95"/><circle cx="1211.95" cy="51.01" r="1.95"/><circle cx="1211.95" cy="57.19" r="1.95"/><circle cx="1206.60" cy="60.15" r="1.95"/><circle cx="1201.25" cy="57.19" r="1.95"/><circle cx="1201.25" cy="51.01" r="1.95"/></g>
<path d="M1225.60 54.10L1225.60 48.05M1225.60 54.10L1230.95 51.01M1225.60 54.10L1230.95 57.19M1225.60 54.10L1225.60 60.15M1225.60 54.10L1220.25 57.19M1225.60 54.10L1220.25 51.01" stroke="#000" stroke-width="3.3" fill="none"/><g fill="#000"><circle cx="1225.60" cy="48.05" r="1.95"/><circle cx="1230.95" cy="51.01" r="1.95"/><circle cx="1230.95" cy="57.19" r="1.95"/><circle cx="1225.60" cy="60.15" r="1.95"/><circle cx="1220.25" cy="57.19" r="1.95"/><circle cx="1220.25" cy="51.01" r="1.95"/></g>
<path d="M1244.60 54.10L1244.60 48.05M1244.60 54.10L1249.95 51.01M1244.60 54.10L1249.95 57.19M1244.60 54.10L1244.60 60.15M1244.60 54.10L1239.25 57.19M1244.60 54.10L1239.25 51.01" stroke="#000" stroke-width="3.3" fill="none"/><g fill="#000"><circle cx="1244.60" cy="48.05" r="1.95"/><circle cx="1249.95" cy="51.01" r="1.95"/><circle cx="1249.95" cy="57.19" r="1.95"/><circle cx="1244.60" cy="60.15" r="1.95"/><circle cx="1239.25" cy="57.19" r="1.95"/><circle cx="1239.25" cy="51.01" r="1.95"/></g>
<path d="M1150.20 102.20L1150.20 96.15M1150.20 102.20L1155.55 99.11M1150.20 102.20L1155.55 105.29M1150.20 102.20L1150.20 108.25M1150.20 102.20L1144.85 105.29M1150.20 102.20L1144.85 99.11" stroke="#000" stroke-width="3.3" fill="none"/><g fill="#000"><circle cx="1150.20" cy="96.15" r="1.95"/><circle cx="1155.55" cy="99.11" r="1.95"/><circle cx="1155.55" cy="105.29" r="1.95"/><circle cx="1150.20" cy="108.25" r="1.95"/><circle cx="1144.85" cy="105.29" r="1.95"/><circle cx="1144.85" cy="99.11" r="1.95"/></g>
<path d="M1168.90 102.20L1168.90 96.15M1168.90 102.20L1174.25 99.11M1168.90 102.20L1174.25 105.29M1168.90 102.20L1168.90 108.25M1168.90 102.20L1163.55 105.29M1168.90 102.20L1163.55 99.11" stroke="#000" stroke-width="3.3" fill="none"/><g fill="#000"><circle cx="1168.90" cy="96.15" r="1.95"/><circle cx="1174.25" cy="99.11" r="1.95"/><circle cx="1174.25" cy="105.29" r="1.95"/><circle cx="1168.90" cy="108.25" r="1.95"/><circle cx="1163.55" cy="105.29" r="1.95"/><circle cx="1163.55" cy="99.11" r="1.95"/></g>
<path d="M1187.60 102.20L1187.60 96.15M1187.60 102.20L1192.95 99.11M1187.60 102.20L1192.95 105.29M1187.60 102.20L1187.60 108.25M1187.60 102.20L1182.25 105.29M1187.60 102.20L1182.25 99.11" stroke="#000" stroke-width="3.3" fill="none"/><g fill="#000"><circle cx="1187.60" cy="96.15" r="1.95"/><circle cx="1192.95" cy="99.11" r="1.95"/><circle cx="1192.95" cy="105.29" r="1.95"/><circle cx="1187.60" cy="108.25" r="1.95"/><circle cx="1182.25" cy="105.29" r="1.95"/><circle cx="1182.25" cy="99.11" r="1.95"/></g>
<path d="M1313.60 102.20L1313.60 96.15M1313.60 102.20L1318.95 99.11M1313.60 102.20L1318.95 105.29M1313.60 102.20L1313.60 108.25M1313.60 102.20L1308.25 105.29M1313.60 102.20L1308.25 99.11" stroke="#000" stroke-width="3.3" fill="none"/><g fill="#000"><circle cx="1313.60" cy="96.15" r="1.95"/><circle cx="1318.95" cy="99.11" r="1.95"/><circle cx="1318.95" cy="105.29" r="1.95"/><circle cx="1313.60" cy="108.25" r="1.95"/><circle cx="1308.25" cy="105.29" r="1.95"/><circle cx="1308.25" cy="99.11" r="1.95"/></g>
<path d="M1332.30 102.20L1332.30 96.15M1332.30 102.20L1337.65 99.11M1332.30 102.20L1337.65 105.29M1332.30 102.20L1332.30 108.25M1332.30 102.20L1326.95 105.29M1332.30 102.20L1326.95 99.11" stroke="#000" stroke-width="3.3" fill="none"/><g fill="#000"><circle cx="1332.30" cy="96.15" r="1.95"/><circle cx="1337.65" cy="99.11" r="1.95"/><circle cx="1337.65" cy="105.29" r="1.95"/><circle cx="1332.30" cy="108.25" r="1.95"/><circle cx="1326.95" cy="105.29" r="1.95"/><circle cx="1326.95" cy="99.11" r="1.95"/></g>
<path d="M1351.00 102.20L1351.00 96.15M1351.00 102.20L1356.35 99.11M1351.00 102.20L1356.35 105.29M1351.00 102.20L1351.00 108.25M1351.00 102.20L1345.65 105.29M1351.00 102.20L1345.65 99.11" stroke="#000" stroke-width="3.3" fill="none"/><g fill="#000"><circle cx="1351.00" cy="96.15" r="1.95"/><circle cx="1356.35" cy="99.11" r="1.95"/><circle cx="1356.35" cy="105.29" r="1.95"/><circle cx="1351.00" cy="108.25" r="1.95"/><circle cx="1345.65" cy="105.29" r="1.95"/><circle cx="1345.65" cy="99.11" r="1.95"/></g>
<path d="M1293.90 150.25L1293.90 144.20M1293.90 150.25L1299.25 147.16M1293.90 150.25L1299.25 153.34M1293.90 150.25L1293.90 156.30M1293.90 150.25L1288.55 153.34M1293.90 150.25L1288.55 147.16" stroke="#000" stroke-width="3.3" fill="none"/><g fill="#000"><circle cx="1293.90" cy="144.20" r="1.95"/><circle cx="1299.25" cy="147.16" r="1.95"/><circle cx="1299.25" cy="153.34" r="1.95"/><circle cx="1293.90" cy="156.30" r="1.95"/><circle cx="1288.55" cy="153.34" r="1.95"/><circle cx="1288.55" cy="147.16" r="1.95"/></g>
<path d="M1312.25 150.25L1312.25 144.20M1312.25 150.25L1317.60 147.16M1312.25 150.25L1317.60 153.34M1312.25 150.25L1312.25 156.30M1312.25 150.25L1306.90 153.34M1312.25 150.25L1306.90 147.16" stroke="#000" stroke-width="3.3" fill="none"/><g fill="#000"><circle cx="1312.25" cy="144.20" r="1.95"/><circle cx="1317.60" cy="147.16" r="1.95"/><circle cx="1317.60" cy="153.34" r="1.95"/><circle cx="1312.25" cy="156.30" r="1.95"/><circle cx="1306.90" cy="153.34" r="1.95"/><circle cx="1306.90" cy="147.16" r="1.95"/></g>
<path d="M1330.60 150.25L1330.60 144.20M1330.60 150.25L1335.95 147.16M1330.60 150.25L1335.95 153.34M1330.60 150.25L1330.60 156.30M1330.60 150.25L1325.25 153.34M1330.60 150.25L1325.25 147.16" stroke="#000" stroke-width="3.3" fill="none"/><g fill="#000"><circle cx="1330.60" cy="144.20" r="1.95"/><circle cx="1335.95" cy="147.16" r="1.95"/><circle cx="1335.95" cy="153.34" r="1.95"/><circle cx="1330.60" cy="156.30" r="1.95"/><circle cx="1325.25" cy="153.34" r="1.95"/><circle cx="1325.25" cy="147.16" r="1.95"/></g>
<path d="M1045.00 206.00L1045.00 199.95M1045.00 206.00L1050.35 202.91M1045.00 206.00L1050.35 209.09M1045.00 206.00L1045.00 212.05M1045.00 206.00L1039.65 209.09M1045.00 206.00L1039.65 202.91" stroke="#000" stroke-width="3.3" fill="none"/><g fill="#000"><circle cx="1045.00" cy="199.95" r="1.95"/><circle cx="1050.35" cy="202.91" r="1.95"/><circle cx="1050.35" cy="209.09" r="1.95"/><circle cx="1045.00" cy="212.05" r="1.95"/><circle cx="1039.65" cy="209.09" r="1.95"/><circle cx="1039.65" cy="202.91" r="1.95"/></g>
<path d="M1063.70 206.00L1063.70 199.95M1063.70 206.00L1069.05 202.91M1063.70 206.00L1069.05 209.09M1063.70 206.00L1063.70 212.05M1063.70 206.00L1058.35 209.09M1063.70 206.00L1058.35 202.91" stroke="#000" stroke-width="3.3" fill="none"/><g fill="#000"><circle cx="1063.70" cy="199.95" r="1.95"/><circle cx="1069.05" cy="202.91" r="1.95"/><circle cx="1069.05" cy="209.09" r="1.95"/><circle cx="1063.70" cy="212.05" r="1.95"/><circle cx="1058.35" cy="209.09" r="1.95"/><circle cx="1058.35" cy="202.91" r="1.95"/></g>
<path d="M1082.40 206.00L1082.40 199.95M1082.40 206.00L1087.75 202.91M1082.40 206.00L1087.75 209.09M1082.40 206.00L1082.40 212.05M1082.40 206.00L1077.05 209.09M1082.40 206.00L1077.05 202.91" stroke="#000" stroke-width="3.3" fill="none"/><g fill="#000"><circle cx="1082.40" cy="199.95" r="1.95"/><circle cx="1087.75" cy="202.91" r="1.95"/><circle cx="1087.75" cy="209.09" r="1.95"/><circle cx="1082.40" cy="212.05" r="1.95"/><circle cx="1077.05" cy="209.09" r="1.95"/><circle cx="1077.05" cy="202.91" r="1.95"/></g>
<path d="M994.40 242.40L994.40 236.35M994.40 242.40L999.75 239.31M994.40 242.40L999.75 245.49M994.40 242.40L994.40 248.45M994.40 242.40L989.05 245.49M994.40 242.40L989.05 239.31" stroke="#000" stroke-width="3.3" fill="none"/><g fill="#000"><circle cx="994.40" cy="236.35" r="1.95"/><circle cx="999.75" cy="239.31" r="1.95"/><circle cx="999.75" cy="245.49" r="1.95"/><circle cx="994.40" cy="248.45" r="1.95"/><circle cx="989.05" cy="245.49" r="1.95"/><circle cx="989.05" cy="239.31" r="1.95"/></g>
<path d="M1013.20 242.40L1013.20 236.35M1013.20 242.40L1018.55 239.31M1013.20 242.40L1018.55 245.49M1013.20 242.40L1013.20 248.45M1013.20 242.40L1007.85 245.49M1013.20 242.40L1007.85 239.31" stroke="#000" stroke-width="3.3" fill="none"/><g fill="#000"><circle cx="1013.20" cy="236.35" r="1.95"/><circle cx="1018.55" cy="239.31" r="1.95"/><circle cx="1018.55" cy="245.49" r="1.95"/><circle cx="1013.20" cy="248.45" r="1.95"/><circle cx="1007.85" cy="245.49" r="1.95"/><circle cx="1007.85" cy="239.31" r="1.95"/></g>
<path d="M1032.00 242.40L1032.00 236.35M1032.00 242.40L1037.35 239.31M1032.00 242.40L1037.35 245.49M1032.00 242.40L1032.00 248.45M1032.00 242.40L1026.65 245.49M1032.00 242.40L1026.65 239.31" stroke="#000" stroke-width="3.3" fill="none"/><g fill="#000"><circle cx="1032.00" cy="236.35" r="1.95"/><circle cx="1037.35" cy="239.31" r="1.95"/><circle cx="1037.35" cy="245.49" r="1.95"/><circle cx="1032.00" cy="248.45" r="1.95"/><circle cx="1026.65" cy="245.49" r="1.95"/><circle cx="1026.65" cy="239.31" r="1.95"/></g>
<path d="M947.15 281.55L947.15 275.50M947.15 281.55L952.50 278.46M947.15 281.55L952.50 284.64M947.15 281.55L947.15 287.60M947.15 281.55L941.80 284.64M947.15 281.55L941.80 278.46" stroke="#000" stroke-width="3.3" fill="none"/><g fill="#000"><circle cx="947.15" cy="275.50" r="1.95"/><circle cx="952.50" cy="278.46" r="1.95"/><circle cx="952.50" cy="284.64" r="1.95"/><circle cx="947.15" cy="287.60" r="1.95"/><circle cx="941.80" cy="284.64" r="1.95"/><circle cx="941.80" cy="278.46" r="1.95"/></g>
<path d="M1096.10 320.00L1096.10 313.95M1096.10 320.00L1101.45 316.91M1096.10 320.00L1101.45 323.09M1096.10 320.00L1096.10 326.05M1096.10 320.00L1090.75 323.09M1096.10 320.00L1090.75 316.91" stroke="#000" stroke-width="3.3" fill="none"/><g fill="#000"><circle cx="1096.10" cy="313.95" r="1.95"/><circle cx="1101.45" cy="316.91" r="1.95"/><circle cx="1101.45" cy="323.09" r="1.95"/><circle cx="1096.10" cy="326.05" r="1.95"/><circle cx="1090.75" cy="323.09" r="1.95"/><circle cx="1090.75" cy="316.91" r="1.95"/></g>
<path d="M1115.30 320.00L1115.30 313.95M1115.30 320.00L1120.65 316.91M1115.30 320.00L1120.65 323.09M1115.30 320.00L1115.30 326.05M1115.30 320.00L1109.95 323.09M1115.30 320.00L1109.95 316.91" stroke="#000" stroke-width="3.3" fill="none"/><g fill="#000"><circle cx="1115.30" cy="313.95" r="1.95"/><circle cx="1120.65" cy="316.91" r="1.95"/><circle cx="1120.65" cy="323.09" r="1.95"/><circle cx="1115.30" cy="326.05" r="1.95"/><circle cx="1109.95" cy="323.09" r="1.95"/><circle cx="1109.95" cy="316.91" r="1.95"/></g>
<path d="M1085.20 355.85L1085.20 349.80M1085.20 355.85L1090.55 352.76M1085.20 355.85L1090.55 358.94M1085.20 355.85L1085.20 361.90M1085.20 355.85L1079.85 358.94M1085.20 355.85L1079.85 352.76" stroke="#000" stroke-width="3.3" fill="none"/><g fill="#000"><circle cx="1085.20" cy="349.80" r="1.95"/><circle cx="1090.55" cy="352.76" r="1.95"/><circle cx="1090.55" cy="358.94" r="1.95"/><circle cx="1085.20" cy="361.90" r="1.95"/><circle cx="1079.85" cy="358.94" r="1.95"/><circle cx="1079.85" cy="352.76" r="1.95"/></g>
<path d="M1133.60 355.85L1133.60 349.80M1133.60 355.85L1138.95 352.76M1133.60 355.85L1138.95 358.94M1133.60 355.85L1133.60 361.90M1133.60 355.85L1128.25 358.94M1133.60 355.85L1128.25 352.76" stroke="#000" stroke-width="3.3" fill="none"/><g fill="#000"><circle cx="1133.60" cy="349.80" r="1.95"/><circle cx="1138.95" cy="352.76" r="1.95"/><circle cx="1138.95" cy="358.94" r="1.95"/><circle cx="1133.60" cy="361.90" r="1.95"/><circle cx="1128.25" cy="358.94" r="1.95"/><circle cx="1128.25" cy="352.76" r="1.95"/></g>
<path d="M1358.90 241.45L1358.90 235.40M1358.90 241.45L1364.25 238.36M1358.90 241.45L1364.25 244.54M1358.90 241.45L1358.90 247.50M1358.90 241.45L1353.55 244.54M1358.90 241.45L1353.55 238.36" stroke="#000" stroke-width="3.3" fill="none"/><g fill="#000"><circle cx="1358.90" cy="235.40" r="1.95"/><circle cx="1364.25" cy="238.36" r="1.95"/><circle cx="1364.25" cy="244.54" r="1.95"/><circle cx="1358.90" cy="247.50" r="1.95"/><circle cx="1353.55" cy="244.54" r="1.95"/><circle cx="1353.55" cy="238.36" r="1.95"/></g>
<text x="0" y="0" font-family="Liberation Serif, serif" font-size="24.48" font-weight="bold" transform="translate(811.24,146.11) scale(0.8961,1)">60</text>
<text x="0" y="0" font-family="Liberation Serif, serif" font-size="24.18" font-weight="bold" transform="translate(811.28,256.12) scale(0.9055,1)">40</text>
<text x="0" y="0" font-family="Liberation Serif, serif" font-size="24.78" font-weight="bold" transform="translate(810.80,366.80) scale(0.9037,1)">20</text>
<text x="0" y="0" font-family="Liberation Serif, serif" font-size="24.93" font-weight="bold" transform="translate(821.65,477.00) scale(0.9552,1)">0</text>
<text x="0.00" y="0.00" font-family="Liberation Sans, sans-serif" font-size="24.7" font-weight="bold" text-anchor="end" transform="translate(887.80,508.3) rotate(-46.5)">NVD</text>
<text x="0.00" y="0.00" font-family="Liberation Sans, sans-serif" font-size="24.7" font-weight="bold" text-anchor="end" transform="translate(933.10,508.3) rotate(-46.5)">NVD+OVA</text>
<text x="0.00" y="0.00" font-family="Liberation Sans, sans-serif" font-size="24.7" font-weight="bold" text-anchor="end" transform="translate(978.40,508.3) rotate(-46.5)">NVD+OVA+ozone</text>
<text x="0.00" y="0.00" font-family="Liberation Sans, sans-serif" font-size="24.7" font-weight="bold" text-anchor="end" transform="translate(1069.00,508.3) rotate(-46.5)">LVD</text>
<text x="0.00" y="0.00" font-family="Liberation Sans, sans-serif" font-size="24.7" font-weight="bold" text-anchor="end" transform="translate(1114.30,508.3) rotate(-46.5)">LVD+OVA</text>
<text x="0.00" y="0.00" font-family="Liberation Sans, sans-serif" font-size="24.7" font-weight="bold" text-anchor="end" transform="translate(1159.60,508.3) rotate(-46.5)">LVD+OVA+ozone</text>
<text x="0.00" y="0.00" font-family="Liberation Sans, sans-serif" font-size="24.7" font-weight="bold" text-anchor="end" transform="translate(1295.50,508.3) rotate(-46.5)">HVD</text>
<text x="0.00" y="0.00" font-family="Liberation Sans, sans-serif" font-size="24.7" font-weight="bold" text-anchor="end" transform="translate(1340.80,508.3) rotate(-46.5)">HVD+OVA</text>
<text x="0.00" y="0.00" font-family="Liberation Sans, sans-serif" font-size="24.7" font-weight="bold" text-anchor="end" transform="translate(1386.10,508.3) rotate(-46.5)">HVD+OVA+ozone</text>
<text x="0" y="0" font-family="Liberation Sans, sans-serif" font-size="24.73" font-weight="bold" transform="translate(853.75,668.75) scale(0.9794,1)">12 weeks</text>
<text x="0" y="0" font-family="Liberation Sans, sans-serif" font-size="24.59" font-weight="bold" transform="translate(1033.76,668.75) scale(0.9772,1)">12 weeks</text>
<text x="0" y="0" font-family="Liberation Sans, sans-serif" font-size="24.86" font-weight="bold" transform="translate(1281.55,668.75) scale(0.9712,1)">12 weeks</text>
<text x="0" y="0" font-family="Liberation Sans, sans-serif" font-size="22.34" font-weight="bold" transform="translate(775.31,438.53) rotate(-90) scale(1.0947,1)">25(OH)D level in serum</text>
<text x="0" y="0" font-family="Liberation Sans, sans-serif" font-size="24.36" font-weight="bold" transform="translate(804.28,349.21) rotate(-90) scale(0.9957,1)">(ng/mL)</text>
</svg></body></html>
